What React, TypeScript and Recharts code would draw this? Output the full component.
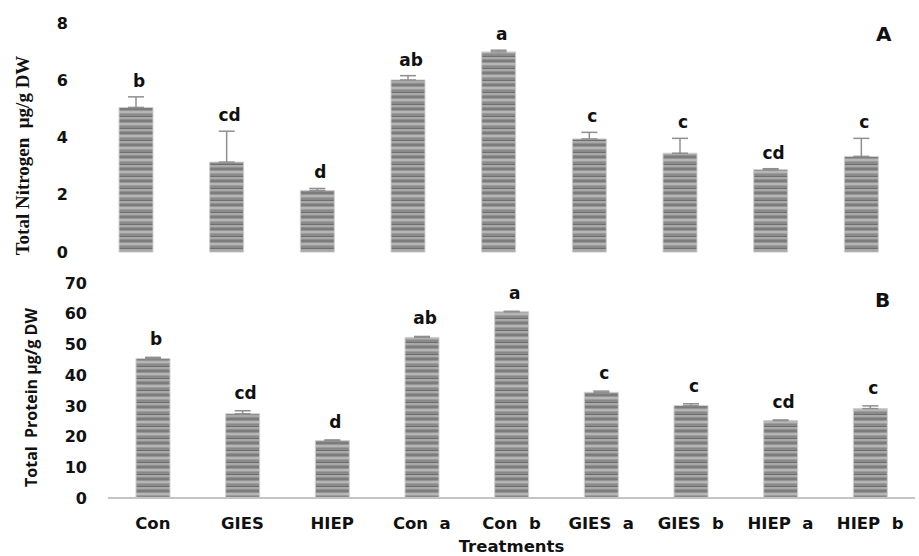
import React from "react";
import { BarChart, Bar, XAxis, YAxis, ErrorBar, LabelList, Label } from "recharts";

const treatments = ["Con", "GIES", "HIEP", "Con  a", "Con  b", "GIES  a", "GIES  b", "HIEP  a", "HIEP  b"];

const nitrogen = [5.05, 3.14, 2.15, 6.01, 6.99, 3.95, 3.45, 2.88, 3.34];
const nitrogenErr = [0.37, 1.08, 0.07, 0.15, 0.06, 0.23, 0.52, 0.03, 0.63];
const nitrogenLetters = ["b", "cd", "d", "ab", "a", "c", "c", "cd", "c"];
const nitrogenTicks = [0, 2, 4, 6, 8];

const protein = [45.4, 27.4, 18.7, 52.3, 60.6, 34.4, 30.1, 25.2, 29.1];
const proteinErr = [0.4, 1.0, 0.2, 0.3, 0.2, 0.4, 0.6, 0.2, 0.9];
const proteinLetters = ["b", "cd", "d", "ab", "a", "c", "c", "cd", "c"];
const proteinTicks = [0, 10, 20, 30, 40, 50, 60, 70];

const nitrogenData = treatments.map((name, i) => ({
  name,
  value: nitrogen[i],
  err: [0, nitrogenErr[i]],
  letter: nitrogenLetters[i],
}));

const proteinData = treatments.map((name, i) => ({
  name,
  value: protein[i],
  err: [0, proteinErr[i]],
  letter: proteinLetters[i],
}));

const BOLD = "'DejaVu Sans', Verdana, sans-serif";

const Stripes = ({ id }: { id: string }) => (
  <defs>
    <pattern id={id} width="8" height="12" patternUnits="userSpaceOnUse">
      <rect x="0" y="0" width="8" height="2" fill="#7c7c7c" />
      <rect x="0" y="2" width="8" height="1" fill="#959595" />
      <rect x="0" y="3" width="8" height="2" fill="#b6b6b6" />
      <rect x="0" y="5" width="8" height="1" fill="#9c9c9c" />
      <rect x="0" y="6" width="8" height="2" fill="#8a8a8a" />
      <rect x="0" y="8" width="8" height="1" fill="#6e6e6e" />
      <rect x="0" y="9" width="8" height="2" fill="#a9a9a9" />
      <rect x="0" y="11" width="8" height="1" fill="#909090" />
    </pattern>
  </defs>
);

const makeLetter = (rows: any[], gap: number) => (props: any) => {
  const { x, y, width, height, value, index } = props;
  const row = rows[index];
  const pxPerUnit = row.value ? height / row.value : 0;
  const top = y - row.err[1] * pxPerUnit;
  return (
    <text
      x={x + width / 2 + 3}
      y={top - gap}
      textAnchor="middle"
      fontFamily={BOLD}
      fontWeight="bold"
      fontSize={17}
      fill="#111"
    >
      {value}
    </text>
  );
};

const XTick = ({ x, y, payload }: any) => (
  <text
    x={x}
    y={y}
    dy={23}
    textAnchor="middle"
    xmlSpace="preserve"
    style={{ whiteSpace: "pre" }}
    fontFamily={BOLD}
    fontWeight="bold"
    fontSize={16.5}
    fill="#111"
  >
    {payload.value}
  </text>
);

const SideLabel = ({ text, x, dy, font, size, weight }: any) => (props: any) => {
  const vb = props.viewBox;
  const cy = vb.y + vb.height / 2 + dy;
  return (
    <text
      x={x}
      y={cy}
      transform={`rotate(-90, ${x}, ${cy})`}
      textAnchor="middle"
      dominantBaseline="central"
      fontFamily={font}
      fontWeight={weight}
      fontSize={size}
      fill="#111"
      xmlSpace="preserve"
      style={{ whiteSpace: "pre" }}
    >
      {text}
    </text>
  );
};

const tickStyle = { fontFamily: BOLD, fontWeight: "bold", fontSize: 16, fill: "#111" };

export default function App() {
  return (
    <div style={{ position: "fixed", left: 0, top: 0, width: 919, height: 556, background: "#fff" }}>
      <BarChart
        width={919}
        height={262}
        data={nitrogenData}
        margin={{ top: 23, right: 12, bottom: 10, left: 0 }}
      >
        <Stripes id="stripeA" />
        <XAxis dataKey="name" hide />
        <YAxis
          width={91}
          domain={[0, 8]}
          ticks={nitrogenTicks}
          axisLine={false}
          tickLine={false}
          tickMargin={17}
          tick={tickStyle}
          label={{
            content: SideLabel({
              text: "Total Nitrogen  μg/g DW",
              x: 22,
              dy: 18,
              font: "'Liberation Serif', 'Times New Roman', serif",
              size: 19,
              weight: "bold",
            }),
          }}
        />
        <Bar dataKey="value" fill="url(#stripeA)" stroke="#cfcfcf" strokeWidth={1} barSize={34} isAnimationActive={false}>
          <ErrorBar dataKey="err" width={8} stroke="#8f8f8f" strokeWidth={1.5} />
          <LabelList dataKey="letter" content={makeLetter(nitrogenData, 10)} />
        </Bar>
      </BarChart>
      <BarChart
        width={919}
        height={294}
        data={proteinData}
        margin={{ top: 21, right: 4, bottom: 0, left: 0 }}
      >
        <Stripes id="stripeB" />
        <XAxis
          dataKey="name"
          height={58}
          axisLine={{ stroke: "#c4c4c4", strokeWidth: 2 }}
          tickLine={false}
          tick={<XTick />}
          interval={0}
        >
          <Label
            value="Treatments"
            position="insideBottom"
            offset={4}
            style={{ fontFamily: BOLD, fontWeight: "bold", fontSize: 16.5, fill: "#111" }}
          />
        </XAxis>
        <YAxis
          width={108}
          domain={[0, 70]}
          ticks={proteinTicks}
          axisLine={false}
          tickLine={false}
          tickMargin={15}
          tick={tickStyle}
          label={{
            content: SideLabel({
              text: "Total  Protein μg/g DW",
              x: 31,
              dy: 7,
              font: "'Open Sans', sans-serif",
              size: 16,
              weight: "bold",
            }),
          }}
        />
        <Bar dataKey="value" fill="url(#stripeB)" stroke="#cfcfcf" strokeWidth={1} barSize={34} isAnimationActive={false}>
          <ErrorBar dataKey="err" width={8} stroke="#8f8f8f" strokeWidth={1.5} />
          <LabelList dataKey="letter" content={makeLetter(proteinData, 12)} />
        </Bar>
      </BarChart>
      <div
        style={{
          position: "absolute",
          left: 876,
          top: 22,
          fontFamily: BOLD,
          fontWeight: "bold",
          fontSize: 20,
          color: "#111",
        }}
      >
        A
      </div>
      <div
        style={{
          position: "absolute",
          left: 875,
          top: 288,
          fontFamily: BOLD,
          fontWeight: "bold",
          fontSize: 20,
          color: "#111",
        }}
      >
        B
      </div>
    </div>
  );
}
